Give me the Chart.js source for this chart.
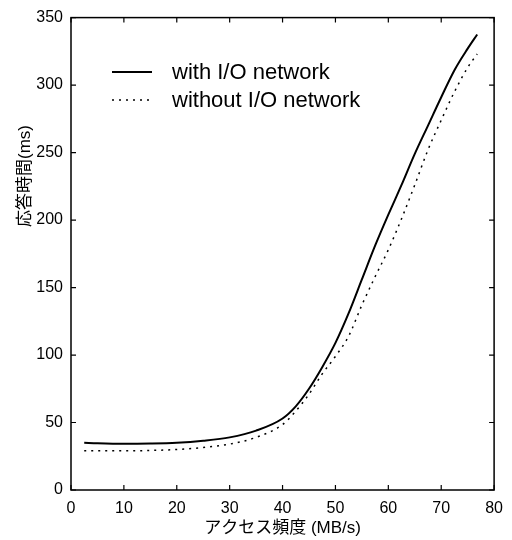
<!DOCTYPE html>
<html lang="ja">
<head>
<meta charset="UTF-8">
<title>応答時間</title>
<script src="https://cdn.jsdelivr.net/npm/chart.js"></script>
<style>
  html, body { margin: 0; padding: 0; background: #fff; }
  .wrap { width: 512px; height: 540px; }
</style>
</head>
<body>
<div class="wrap"><canvas id="chart" width="512" height="540"></canvas></div>
<script>
// アクセス頻度 (MB/s)
const accessRate = [2.5, 5, 10, 15, 20, 25, 30, 35, 40, 42.5, 45, 47.5, 50, 52.5, 55, 57.5, 60, 62.5, 65, 67.5, 70, 72.5, 75, 76.8];
// 応答時間 (ms)
const withIO    = [35, 34.6, 34.2, 34.4, 35, 36.5, 39, 44, 53, 62, 75, 91, 109, 131, 156, 181, 204, 226, 249, 270, 291, 311, 327, 337.5];
const withoutIO = [29, 29, 29, 29.3, 30, 31.5, 34, 39, 48.5, 58.5, 71, 86, 99, 114, 137, 158, 178, 201, 226, 252, 274, 295, 313, 323];
const seriesNames = ['with I/O network', 'without I/O network'];
const xTicks = [0, 10, 20, 30, 40, 50, 60, 70, 80];
const yTicks = [0, 50, 100, 150, 200, 250, 300, 350];
const xTitle = 'アクセス頻度 (MB/s)';
const yTitle = '応答時間(ms)';

const FONT = "'Liberation Sans', 'Noto Sans CJK JP', sans-serif";
const toPoints = ys => accessRate.map((x, i) => ({ x: x, y: ys[i] }));

// 枠・内向きの目盛り・凡例・縦軸タイトル
const decor = {
  id: 'decor',
  afterDraw(chart) {
    const ctx = chart.ctx;
    const a = chart.chartArea;
    const xs = chart.scales.x, ys = chart.scales.y;
    const t = 5;
    ctx.save();
    ctx.strokeStyle = '#000';
    ctx.lineWidth = 1.5;
    ctx.strokeRect(a.left, a.top, a.right - a.left, a.bottom - a.top);
    ctx.lineWidth = 1.2;
    ctx.beginPath();
    xTicks.forEach(v => {
      const px = xs.getPixelForValue(v);
      ctx.moveTo(px, a.bottom); ctx.lineTo(px, a.bottom - t);
      ctx.moveTo(px, a.top); ctx.lineTo(px, a.top + t);
    });
    yTicks.forEach(v => {
      const py = ys.getPixelForValue(v);
      ctx.moveTo(a.left, py); ctx.lineTo(a.left + t, py);
      ctx.moveTo(a.right, py); ctx.lineTo(a.right - t, py);
    });
    ctx.stroke();

    // 凡例
    chart.data.datasets.forEach((ds, i) => {
      const y = 72 + i * 28;
      ctx.beginPath();
      ctx.lineWidth = ds.borderWidth;
      ctx.setLineDash(ds.borderDash || []);
      ctx.moveTo(112, y); ctx.lineTo(152, y);
      ctx.stroke();
      ctx.setLineDash([]);
      ctx.fillStyle = '#000';
      ctx.font = '22px ' + FONT;
      ctx.textBaseline = 'alphabetic';
      ctx.textAlign = 'left';
      ctx.fillText(ds.label, 172, y + 6.5);
    });

    // 縦軸タイトル
    ctx.translate(25, 176);
    ctx.rotate(-Math.PI / 2);
    ctx.font = '17px ' + FONT;
    ctx.textAlign = 'center';
    ctx.textBaseline = 'middle';
    ctx.fillText(yTitle, 0, 0);
    ctx.restore();
  }
};

new Chart(document.getElementById('chart'), {
  type: 'line',
  data: {
    datasets: [{
      label: seriesNames[0],
      data: toPoints(withIO),
      borderColor: '#000',
      borderWidth: 2,
      pointRadius: 0,
      cubicInterpolationMode: 'monotone',
      fill: false
    }, {
      label: seriesNames[1],
      data: toPoints(withoutIO),
      borderColor: '#000',
      borderWidth: 1.5,
      borderDash: [2, 5],
      pointRadius: 0,
      cubicInterpolationMode: 'monotone',
      fill: false
    }]
  },
  options: {
    responsive: false,
    animation: false,
    layout: { padding: { top: 13, right: 15, left: 0, bottom: 0 } },
    plugins: { legend: { display: false }, tooltip: { enabled: false } },
    scales: {
      x: {
        type: 'linear',
        min: 0, max: 80,
        afterFit: s => { s.height = 50; },
        afterBuildTicks: s => { s.ticks = xTicks.map(v => ({ value: v })); },
        grid: { display: false, drawTicks: false },
        border: { display: false },
        ticks: { color: '#000', font: { family: FONT, size: 16 }, padding: 9, maxRotation: 0 },
        title: { display: true, text: xTitle, color: '#000', font: { family: FONT, size: 17 }, padding: { top: 0, bottom: 1 } }
      },
      y: {
        type: 'linear',
        min: 0, max: 350,
        afterFit: s => { s.width = 71; },
        afterBuildTicks: s => { s.ticks = yTicks.map(v => ({ value: v })); },
        grid: { display: false, drawTicks: false },
        border: { display: false },
        ticks: { color: '#000', font: { family: FONT, size: 16 }, padding: 8 }
      }
    }
  },
  plugins: [decor]
});
</script>
</body>
</html>
